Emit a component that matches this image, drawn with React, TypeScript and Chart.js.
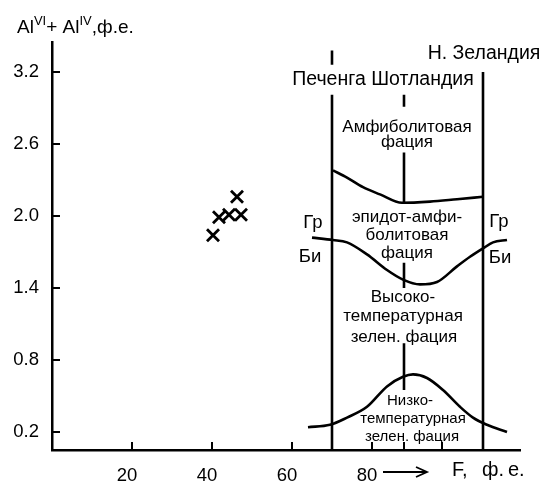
import React, { useEffect, useRef } from "react";
import { Chart, registerables } from "chart.js";

Chart.register(...registerables);

// Sample points (crosses)
const marksX = [46.25, 41.75, 44.25, 47.25, 40.25];
const marksY = [2.16, 1.99, 2.01, 2.01, 1.84];

// Boundary amphibolite / epidote-amphibolite
const amphX = [70.25, 73.75, 77.75, 82, 87.5, 94.5, 101.25, 107.75];
const amphY = [2.38, 2.32, 2.24, 2.18, 2.11, 2.12, 2.14, 2.16];

// Гр / Би isograd
const grBiX = [65, 70.25, 73.75, 78.75, 83.75, 87.75, 92, 96.25, 101.25, 104.5, 107.75, 110.25, 113.75];
const grBiY = [1.82, 1.8, 1.78, 1.68, 1.55, 1.47, 1.43, 1.45, 1.58, 1.66, 1.73, 1.78, 1.8];

// Low-temperature greenschist boundary
const lowX = [64, 69.5, 73.75, 78.75, 83.75, 87.75, 90.25, 93.75, 97.75, 102, 105.25, 108.75, 113.75];
const lowY = [0.24, 0.26, 0.32, 0.41, 0.58, 0.66, 0.68, 0.65, 0.55, 0.41, 0.32, 0.26, 0.2];

// Localities: vertical lines (x) and their drawn segments (y from, y to)
const localityNames = ["Печенга", "Шотландия", "Н. Зеландия"];
const localityX = [70, 88, 107.75];
const localitySegments = [
  [[3.38, 3.26], [3.01, 0.05]],
  [[3.01, 2.91], [2.53, 2.11], [1.61, 1.4], [0.94, 0.55]],
  [[3.2, 0.05]],
];

// Axis ticks
const yTicks = [0.2, 0.8, 1.4, 2.0, 2.6, 3.2];
const xTicks = [20, 40, 60, 80];
const xMinorTicks = [88, 97.5];

// Texts
const faciesTexts = [
  "Н. Зеландия",
  "Печенга Шотландия",
  "Амфиболитовая",
  "фация",
  "эпидот-амфи-",
  "болитовая",
  "фация",
  "Высоко-",
  "температурная",
  "зелен. фация",
  "Низко-",
  "температурная",
  "зелен. фация",
  "Гр",
  "Би",
  "Гр",
  "Би",
];
const xAxisUnitParts = ["F,", "ф.", "е."];

const FONT = "'Liberation Sans', Arial, Helvetica, sans-serif";

const labelAnchors = [
  { x: 108, y: 3.35, s: 19.5 },
  { x: 82.75, y: 3.14, s: 19.5 },
  { x: 88.75, y: 2.74, s: 17 },
  { x: 88.75, y: 2.61, s: 17 },
  { x: 88.75, y: 1.99, s: 17 },
  { x: 88.75, y: 1.84, s: 17 },
  { x: 88.75, y: 1.69, s: 17 },
  { x: 87.75, y: 1.32, s: 17 },
  { x: 87.75, y: 1.16, s: 17 },
  { x: 88, y: 0.99, s: 17 },
  { x: 89.5, y: 0.46, s: 15 },
  { x: 90.25, y: 0.31, s: 15 },
  { x: 90, y: 0.16, s: 15 },
  { x: 65.25, y: 1.94, s: 18.5 },
  { x: 64.5, y: 1.66, s: 18.5 },
  { x: 111.75, y: 1.95, s: 18.5 },
  { x: 112, y: 1.65, s: 18.5 },
];
const unitAnchorsX = [100, 107.5, 114];

const faciesPlugin = {
  id: "facies",
  afterDatasetsDraw(chart: any) {
    const ctx = chart.ctx;
    const xs = chart.scales.x;
    const ys = chart.scales.y;
    const area = chart.chartArea;
    ctx.save();
    ctx.strokeStyle = "#000";
    ctx.fillStyle = "#000";
    ctx.lineWidth = 2;
    // inward tick marks
    yTicks.forEach((v) => {
      const py = ys.getPixelForValue(v);
      ctx.beginPath();
      ctx.moveTo(area.left, py);
      ctx.lineTo(area.left + 8, py);
      ctx.stroke();
    });
    [...xTicks, ...xMinorTicks].forEach((v) => {
      const px = xs.getPixelForValue(v);
      ctx.beginPath();
      ctx.moveTo(px, area.bottom);
      ctx.lineTo(px, area.bottom - 8);
      ctx.stroke();
    });
    // labels
    ctx.textAlign = "center";
    ctx.textBaseline = "middle";
    faciesTexts.forEach((t, i) => {
      const a = labelAnchors[i];
      ctx.font = `${a.s}px ${FONT}`;
      ctx.fillText(t, xs.getPixelForValue(a.x), ys.getPixelForValue(a.y));
    });
    // y-axis title with superscripts
    let tx = area.left - 35;
    const by = area.top - 9;
    ctx.textAlign = "left";
    ctx.textBaseline = "alphabetic";
    const parts = [
      { t: "Al", sup: false },
      { t: "VI", sup: true },
      { t: "+ Al", sup: false },
      { t: "IV", sup: true },
      { t: ",ф.е.", sup: false },
    ];
    parts.forEach((p) => {
      ctx.font = p.sup ? `13px ${FONT}` : `19px ${FONT}`;
      ctx.fillText(p.t, tx, p.sup ? by - 8 : by);
      tx += ctx.measureText(p.t).width;
    });
    // arrow and unit after x labels
    const ay = area.bottom + 22;
    const ax1 = xs.getPixelForValue(82.75);
    const ax2 = xs.getPixelForValue(93.75);
    ctx.lineWidth = 1.8;
    ctx.beginPath();
    ctx.moveTo(ax1, ay);
    ctx.lineTo(ax2, ay);
    ctx.moveTo(ax2 - 11, ay - 5);
    ctx.lineTo(ax2, ay);
    ctx.lineTo(ax2 - 11, ay + 5);
    ctx.stroke();
    ctx.font = `20px ${FONT}`;
    ctx.textBaseline = "middle";
    xAxisUnitParts.forEach((t, i) => {
      ctx.fillText(t, xs.getPixelForValue(unitAnchorsX[i]), ay - 2);
    });
    ctx.restore();
  },
};

export default function App() {
  const ref = useRef<HTMLCanvasElement | null>(null);
  useEffect(() => {
    if (!ref.current) return;
    const lineStyle = {
      showLine: true,
      borderColor: "#000",
      borderWidth: 2.6,
      pointRadius: 0,
      fill: false,
      clip: false as any,
    };
    const datasets: any[] = [
      {
        label: "samples",
        data: marksX.map((x, i) => ({ x, y: marksY[i] })),
        pointStyle: "crossRot",
        pointRadius: 8.5,
        borderColor: "#000",
        borderWidth: 2.8,
        showLine: false,
      },
      {
        ...lineStyle,
        label: "amph",
        data: amphX.map((x, i) => ({ x, y: amphY[i] })),
        cubicInterpolationMode: "monotone",
      },
      {
        ...lineStyle,
        label: "grbi",
        data: grBiX.map((x, i) => ({ x, y: grBiY[i] })),
        cubicInterpolationMode: "monotone",
      },
      {
        ...lineStyle,
        label: "low",
        data: lowX.map((x, i) => ({ x, y: lowY[i] })),
        cubicInterpolationMode: "monotone",
      },
    ];
    localitySegments.forEach((segs, li) => {
      segs.forEach((sg, si) => {
        datasets.push({
          ...lineStyle,
          label: `${localityNames[li]} ${si}`,
          data: [
            { x: localityX[li], y: sg[0] },
            { x: localityX[li], y: sg[1] },
          ],
        });
      });
    });
    const chart = new Chart(ref.current, {
      type: "scatter",
      data: { datasets },
      plugins: [faciesPlugin],
      options: {
        animation: false,
        responsive: false,
        devicePixelRatio: 1,
        layout: { padding: { top: 42, right: 27, left: 0, bottom: 0 } },
        plugins: { legend: { display: false }, tooltip: { enabled: false } },
        scales: {
          x: {
            type: "linear",
            min: 0,
            max: 117,
            grid: { display: false, drawTicks: false },
            border: { display: true, width: 2.5, color: "#000" },
            ticks: {
              color: "#000",
              font: { size: 18.5, family: FONT },
              padding: 15,
              labelOffset: -5,
              maxRotation: 0,
              autoSkip: false,
              callback: (v: any) => String(v),
            },
            afterBuildTicks: (s: any) => {
              s.ticks = xTicks.map((v) => ({ value: v }));
            },
            afterFit: (s: any) => {
              s.height = 35;
            },
          },
          y: {
            type: "linear",
            min: 0.05,
            max: 3.45,
            grid: { display: false, drawTicks: false },
            border: { display: true, width: 2.5, color: "#000" },
            ticks: {
              color: "#000",
              font: { size: 18.5, family: FONT },
              padding: 13,
              autoSkip: false,
              callback: (v: any) => Number(v).toFixed(1),
            },
            afterBuildTicks: (s: any) => {
              s.ticks = yTicks.map((v) => ({ value: v }));
            },
            afterFit: (s: any) => {
              s.width = 52;
            },
          },
        },
      } as any,
    });
    return () => chart.destroy();
  }, []);
  return (
    <div style={{ position: "absolute", left: 0, top: 0, width: 547, height: 485, background: "#fff" }}>
      <canvas ref={ref} width={547} height={485} style={{ width: 547, height: 485 }} />
    </div>
  );
}
